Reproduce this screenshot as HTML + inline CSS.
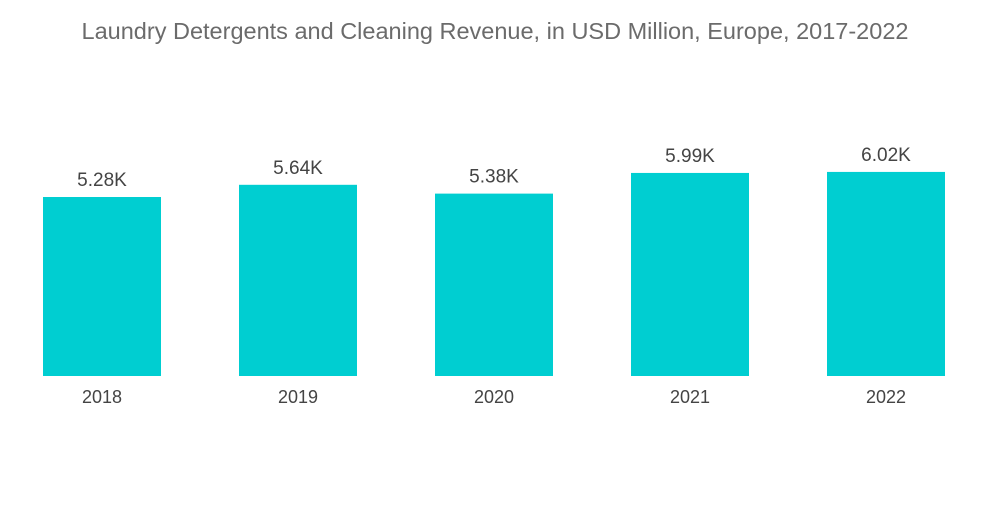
<!DOCTYPE html>
<html>
<head>
<meta charset="utf-8">
<style>
  html,body{margin:0;padding:0;background:#fff;}
  body{width:1000px;height:504px;overflow:hidden;font-family:"Liberation Sans",sans-serif;}
</style>
</head>
<body>
<svg id="chart" width="1000" height="504" viewBox="0 0 1000 504">
  <text x="495" y="39" text-anchor="middle" font-size="23.5" fill="#6b6b6b" font-family="Liberation Sans, sans-serif">Laundry Detergents and Cleaning Revenue, in USD Million, Europe, 2017-2022</text>
  <g id="bars"></g>
</svg>
<script>
const categories = ["2018","2019","2020","2021","2022"];
const values = [5.28, 5.64, 5.38, 5.99, 6.02];
const valueLabels = ["5.28K","5.64K","5.38K","5.99K","6.02K"];

const baseY = 376, pxPerUnit = 33.9, x0 = 43, step = 196, barW = 118;
const yScale = v => baseY - v * pxPerUnit;
const xScale = i => x0 + i * step;
const NS = "http://www.w3.org/2000/svg";
const g = document.getElementById("bars");
categories.forEach((c, i) => {
  const x = xScale(i), y = yScale(values[i]);
  const r = document.createElementNS(NS, "rect");
  r.setAttribute("x", x); r.setAttribute("y", y);
  r.setAttribute("width", barW); r.setAttribute("height", baseY - y);
  r.setAttribute("fill", "#00ced1");
  
  
  g.appendChild(r);
  const t = document.createElementNS(NS, "text");
  t.setAttribute("x", x + barW / 2); t.setAttribute("y", y - 11);
  t.setAttribute("text-anchor", "middle"); t.setAttribute("font-size", "19");
  t.setAttribute("fill", "#444");
  t.textContent = valueLabels[i];
  
  
  g.appendChild(t);
  const l = document.createElementNS(NS, "text");
  l.setAttribute("x", x + barW / 2); l.setAttribute("y", 403);
  l.setAttribute("text-anchor", "middle"); l.setAttribute("font-size", "18");
  l.setAttribute("fill", "#444");
  l.textContent = c;
  
  
  g.appendChild(l);
});
</script>
</body>
</html>
